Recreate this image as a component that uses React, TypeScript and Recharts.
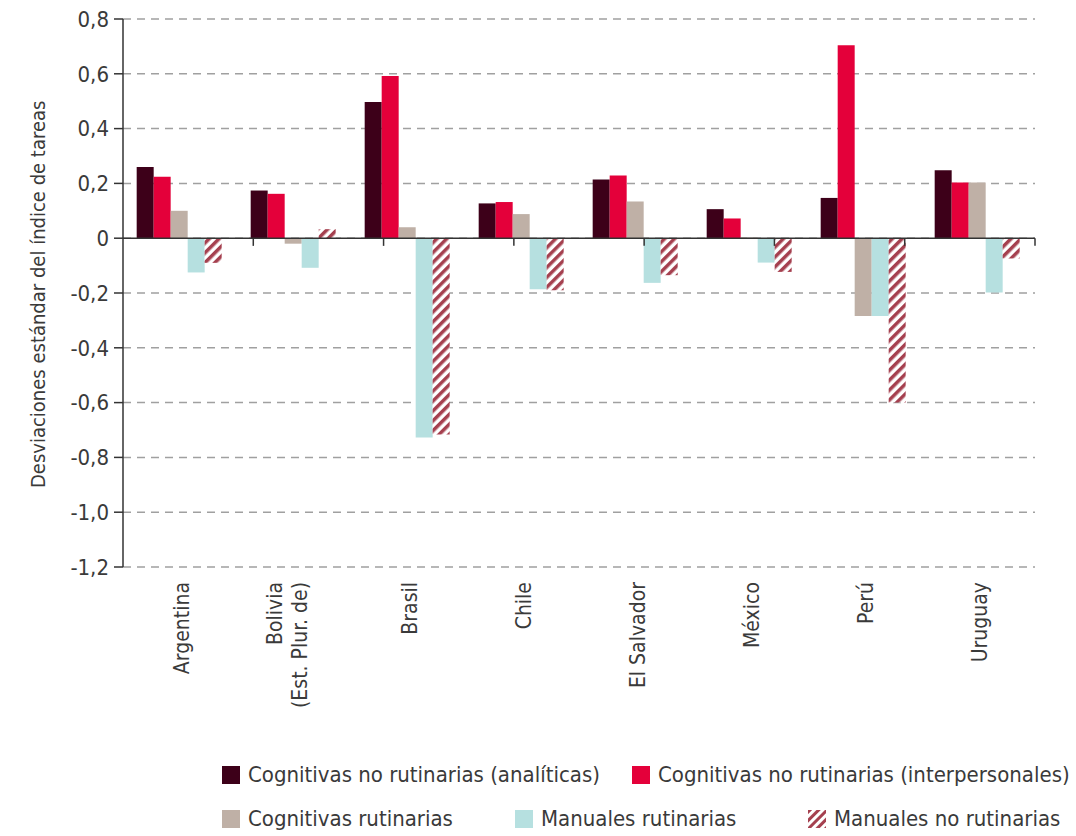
import React from 'react';
import { BarChart, Bar, XAxis, YAxis, CartesianGrid, ReferenceLine } from 'recharts';

const categories = ['Argentina', 'Bolivia\n(Est. Plur. de)', 'Brasil', 'Chile', 'El Salvador', 'México', 'Perú', 'Uruguay'];
const cogNoRutAnal = [0.26, 0.174, 0.497, 0.127, 0.214, 0.106, 0.147, 0.248];
const cogNoRutInter = [0.224, 0.162, 0.592, 0.132, 0.229, 0.072, 0.704, 0.203];
const cogRut = [0.1, -0.02, 0.04, 0.088, 0.134, 0.003, -0.284, 0.203];
const manRut = [-0.125, -0.108, -0.727, -0.186, -0.163, -0.089, -0.284, -0.198];
const manNoRut = [-0.09, 0.033, -0.716, -0.19, -0.135, -0.123, -0.6, -0.074];
const yTicks = [0.8, 0.6, 0.4, 0.2, 0, -0.2, -0.4, -0.6, -0.8, -1.0, -1.2];
const boundaries = [1, 2, 3, 4, 5, 6, 7, 8];

const seriesNames = [
  'Cognitivas no rutinarias (analíticas)',
  'Cognitivas no rutinarias (interpersonales)',
  'Cognitivas rutinarias',
  'Manuales rutinarias',
  'Manuales no rutinarias',
];

const data = categories.map((c, i) => ({
  name: c,
  idx: i,
  a: cogNoRutAnal[i],
  b: cogNoRutInter[i],
  c: cogRut[i],
  d: manRut[i],
  e: manNoRut[i],
}));

const FONT = '"Liberation Sans Narrow", "Arial Narrow", "DejaVu Sans Condensed", "Liberation Sans", sans-serif';
const TEXT = '#3a3a3a';

const fmt = (v: number) => (v === 0 ? '0' : v.toFixed(1).replace('.', ','));

const XTick = (props: any) => {
  const { x, y, payload } = props;
  const lines = String(payload.value).split('\n');
  const offsets = lines.length === 1 ? [0] : [-21, 4];
  return (
    <g>
      {lines.map((ln, k) => (
        <text
          key={k}
          transform={`translate(${x + 2 + offsets[k]}, ${y}) rotate(-90)`}
          textAnchor="end"
          dy="0.35em"
          fontFamily={FONT}
          fontSize={21}
          fill={TEXT}
        >
          {ln}
        </text>
      ))}
    </g>
  );
};

const Swatch = ({ fill }: { fill: string }) => (
  <svg width={18} height={18} style={{ marginRight: 8, flex: 'none' }}>
    {fill === 'hatch' ? (
      <g>
        <defs>
          <pattern id="hatchLegend" patternUnits="userSpaceOnUse" width="6" height="6" patternTransform="rotate(45)">
            <rect width="6" height="6" fill="#fff" />
            <rect width="3" height="6" fill="#a5404f" />
          </pattern>
        </defs>
        <rect width={18} height={18} fill="url(#hatchLegend)" />
      </g>
    ) : (
      <rect width={18} height={18} fill={fill} />
    )}
  </svg>
);

const colors = ['#3d0019', '#e4003a', '#bfb0a6', '#b6e0e0', 'hatch'];

const LegendItem = ({ i, left, top }: { i: number; left: number; top: number }) => (
  <div
    style={{
      position: 'absolute',
      left,
      top,
      display: 'flex',
      alignItems: 'center',
      fontFamily: FONT,
      fontSize: 22,
      color: TEXT,
      whiteSpace: 'nowrap',
    }}
  >
    <Swatch fill={colors[i]} />
    <span>{seriesNames[i]}</span>
  </div>
);

export default function App() {
  return (
    <div style={{ position: 'absolute', left: 0, top: 0, width: 1076, height: 836, background: '#fff' }}>
      <BarChart
        width={1076}
        height={836}
        data={data}
        margin={{ top: 19, right: 41, bottom: 0, left: 63 }}
        barCategoryGap="12%"
        barGap={0}
      >
        <defs>
          <pattern id="hatch" patternUnits="userSpaceOnUse" width="7" height="7" patternTransform="rotate(45)">
            <rect width="7" height="7" fill="#fff" />
            <rect width="3.5" height="7" fill="#a5404f" />
          </pattern>
        </defs>
        <CartesianGrid vertical={false} stroke="#a0a0a0" strokeDasharray="8 6" strokeWidth={1.5} />
        <XAxis
          dataKey="name"
          xAxisId="cat"
          height={269}
          axisLine={false}
          tickLine={false}
          interval={0}
          tick={<XTick />}
          tickMargin={9}
        />
        <XAxis xAxisId="num" type="number" domain={[0, 8]} hide />
        <YAxis
          domain={[-1.2, 0.8]}
          ticks={yTicks}
          width={60}
          tickFormatter={fmt}
          interval={0}
          axisLine={{ stroke: '#333', strokeWidth: 1.5 }}
          tickLine={{ stroke: '#333', strokeWidth: 1.5 }}
          tickSize={9}
          tickMargin={5}
          tick={{ fontFamily: FONT, fontSize: 22, fill: TEXT }}
          label={{
            value: 'Desviaciones estándar del índice de tareas',
            angle: -90,
            position: 'insideLeft',
            dx: -30,
            dy: 195,
            style: { fontFamily: FONT, fontSize: 20, fill: TEXT, textAnchor: 'start' },
          }}
        />
        <Bar xAxisId="cat" dataKey="a" fill={colors[0]} isAnimationActive={false} />
        <Bar xAxisId="cat" dataKey="b" fill={colors[1]} isAnimationActive={false} />
        <Bar xAxisId="cat" dataKey="c" fill={colors[2]} isAnimationActive={false} />
        <Bar xAxisId="cat" dataKey="d" fill={colors[3]} isAnimationActive={false} />
        <Bar xAxisId="cat" dataKey="e" fill="url(#hatch)" isAnimationActive={false} />
        <ReferenceLine xAxisId="cat" y={0} stroke="#333" strokeWidth={1.5} />
        {boundaries.map((b) => (
          <ReferenceLine
            key={b}
            xAxisId="num"
            segment={[
              { x: b, y: 0 },
              { x: b, y: -0.028 },
            ]}
            stroke="#333"
            strokeWidth={1.5}
          />
        ))}
      </BarChart>
      <LegendItem i={0} left={222} top={762} />
      <LegendItem i={1} left={632} top={762} />
      <LegendItem i={2} left={222} top={806} />
      <LegendItem i={3} left={515} top={806} />
      <LegendItem i={4} left={808} top={806} />
    </div>
  );
}
